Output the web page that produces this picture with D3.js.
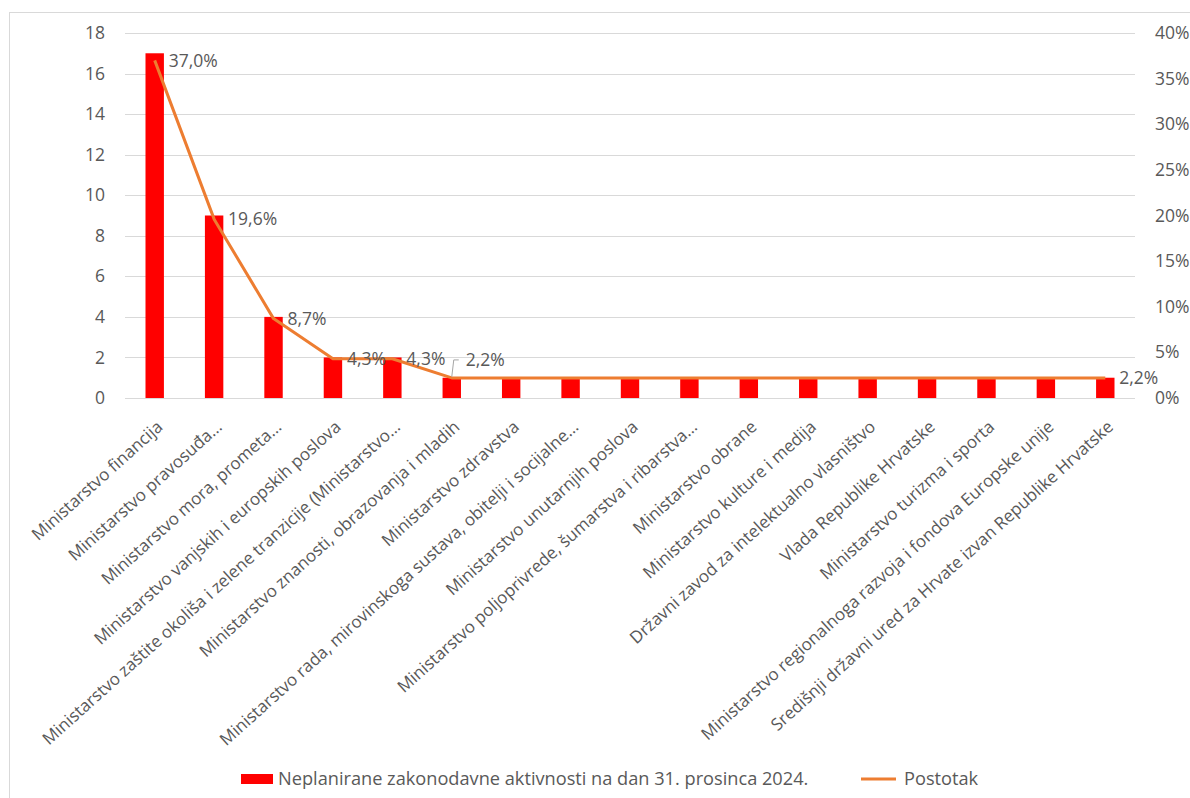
<!DOCTYPE html>
<html>
<head>
<meta charset="utf-8">
<script src="https://cdn.jsdelivr.net/npm/d3@7"></script>
<style>
  body { margin: 0; background: #fff; }
  svg text { font-family: "Open Sans", "Noto Sans", sans-serif; fill: #595959; }
</style>
</head>
<body>
<div id="chart"></div>
<script>
// DATA
var categories = [
  "Ministarstvo financija",
  "Ministarstvo pravosuđa…",
  "Ministarstvo mora, prometa…",
  "Ministarstvo vanjskih i europskih poslova",
  "Ministarstvo zaštite okoliša i zelene tranzicije (Ministarstvo…",
  "Ministarstvo znanosti, obrazovanja i mladih",
  "Ministarstvo zdravstva",
  "Ministarstvo rada, mirovinskoga sustava, obitelji i socijalne…",
  "Ministarstvo unutarnjih poslova",
  "Ministarstvo poljoprivrede, šumarstva i ribarstva…",
  "Ministarstvo obrane",
  "Ministarstvo kulture i medija",
  "Državni zavod za intelektualno vlasništvo",
  "Vlada Republike Hrvatske",
  "Ministarstvo turizma i sporta",
  "Ministarstvo regionalnoga razvoja i fondova Europske unije",
  "Središnji državni ured za Hrvate izvan Republike Hrvatske"
];
var counts = [17, 9, 4, 2, 2, 1, 1, 1, 1, 1, 1, 1, 1, 1, 1, 1, 1];
var percents = [0.370, 0.196, 0.087, 0.043, 0.043, 0.022, 0.022, 0.022, 0.022,
                0.022, 0.022, 0.022, 0.022, 0.022, 0.022, 0.022, 0.022];
var leftTicks = [0, 2, 4, 6, 8, 10, 12, 14, 16, 18];
var rightTicks = [0, 0.05, 0.10, 0.15, 0.20, 0.25, 0.30, 0.35, 0.40];
var labelled = [0, 1, 2, 3, 4, 5, 16]; // points that carry a data label
var legendNames = ["Neplanirane zakonodavne aktivnosti na dan 31. prosinca 2024.", "Postotak"];

// SIZES
var W = 1190, H = 798;
var plot = {left: 125, right: 1135, top: 33, bottom: 398};
var barColor = "#ff0000", lineColor = "#ed7d31", gridColor = "#d9d9d9";
var fs = "17.5px";

var svg = d3.select("#chart").append("svg")
    .attr("width", W).attr("height", H);

// chart border
svg.append("rect")
    .attr("x", 9.5).attr("y", 12.5)
    .attr("width", W).attr("height", H)
    .attr("fill", "none").attr("stroke", gridColor);

var x = d3.scaleBand().domain(d3.range(categories.length))
    .range([plot.left, plot.right]).paddingInner(0.69).paddingOuter(0.345);
var y = d3.scaleLinear().domain([0, 18]).range([plot.bottom, plot.top]);
var y2 = d3.scaleLinear().domain([0, 0.4]).range([plot.bottom, plot.top]);
var cx = function(i) { return x(i) + x.bandwidth() / 2; };

// gridlines
svg.append("g").selectAll("line").data(leftTicks).join("line")
    .attr("x1", plot.left).attr("x2", plot.right)
    .attr("y1", function(d) { return Math.round(y(d)) + 0.5; })
    .attr("y2", function(d) { return Math.round(y(d)) + 0.5; })
    .attr("stroke", gridColor).attr("stroke-width", 1.2);

// left axis
var yAxis = svg.append("g")
    .attr("transform", "translate(" + (plot.left - 20) + ",0)")
    .call(d3.axisLeft(y).tickValues(leftTicks).tickSize(0).tickPadding(0));
yAxis.select(".domain").remove();
yAxis.selectAll("text").style("font-size", fs).attr("fill", "#595959");

// right axis
var y2Axis = svg.append("g")
    .attr("transform", "translate(" + (plot.right + 20) + ",0)")
    .call(d3.axisRight(y2).tickValues(rightTicks).tickSize(0).tickPadding(0)
      .tickFormat(function(d) { return Math.round(d * 100) + "%"; }));
y2Axis.select(".domain").remove();
y2Axis.selectAll("text").style("font-size", fs).attr("fill", "#595959");

// bars
svg.append("g").selectAll("rect").data(counts).join("rect")
    .attr("x", function(d, i) { return x(i); })
    .attr("width", x.bandwidth())
    .attr("y", function(d) { return y(d); })
    .attr("height", function(d) { return y(0) - y(d); })
    .attr("fill", barColor);

// percentage line
var line = d3.line()
    .x(function(d, i) { return cx(i); })
    .y(function(d) { return y2(d); });
svg.append("path").datum(percents)
    .attr("d", line)
    .attr("fill", "none").attr("stroke", lineColor)
    .attr("stroke-width", 3).attr("stroke-linejoin", "round");

// data labels
var fmt = function(d) { return (d * 100).toFixed(1).replace(".", ",") + "%"; };
svg.append("g").selectAll("text").data(labelled).join("text")
    .attr("x", function(i) { return cx(i) + 14; })
    .attr("y", function(i) { return i === 5 ? y2(percents[i]) - 18 : y2(percents[i]); })
    .attr("dy", "0.35em")
    .style("font-size", fs)
    .attr("fill", "#404040")
    .text(function(i) { return fmt(percents[i]); });

// leader line for the crowded label
var li = 5;
svg.append("path")
    .attr("d", "M" + cx(li) + "," + (y2(percents[li]) - 1) +
               "L" + (cx(li) + 2) + "," + (y2(percents[li]) - 18) +
               "H" + (cx(li) + 7))
    .attr("fill", "none").attr("stroke", "#a6a6a6").attr("stroke-width", 1);

// category labels (the picture is a bit wider than tall, so the slant is ~42deg)
svg.append("g").selectAll("text").data(categories).join("text")
    .attr("transform", function(d, i) {
      return "translate(" + (cx(i) + 5) + "," + (plot.bottom + 26) + ")rotate(-42)";
    })
    .attr("text-anchor", "end")
    .attr("dy", "0.35em")
    .style("font-size", "17px")
    .text(function(d) { return d; });

// legend
var lg = svg.append("g");
lg.append("rect").attr("x", 241).attr("y", 774).attr("width", 32).attr("height", 10)
    .attr("fill", barColor);
lg.append("text").attr("x", 278).attr("y", 779).attr("dy", "0.35em")
    .style("font-size", "18.2px")
    .text(legendNames[0]);
lg.append("line").attr("x1", 861).attr("x2", 896).attr("y1", 779).attr("y2", 779)
    .attr("stroke", lineColor).attr("stroke-width", 3);
lg.append("text").attr("x", 904).attr("y", 779).attr("dy", "0.35em")
    .style("font-size", "18.2px")
    .text(legendNames[1]);
</script>
</body>
</html>
